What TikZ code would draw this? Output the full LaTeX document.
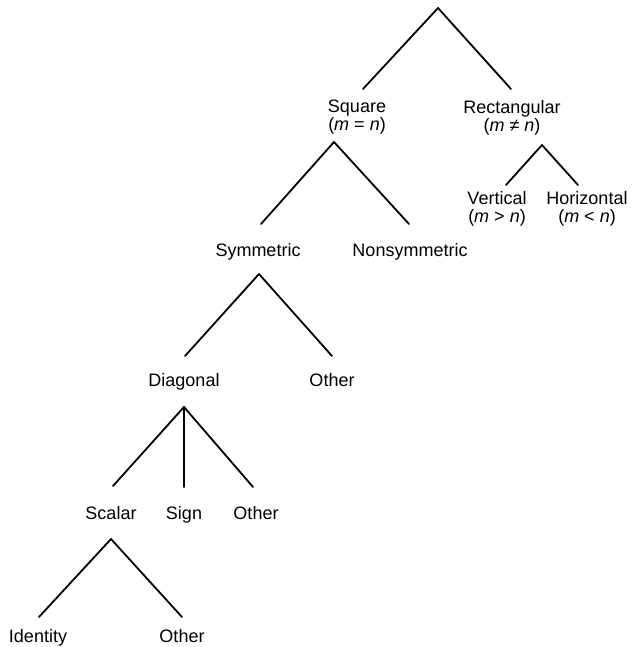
\documentclass[tikz,border=0pt]{standalone}
\usepackage{fontspec}
\setmainfont{Liberation Sans}
\begin{document}
\begin{tikzpicture}[x=1pt,y=-1pt,
  branch/.style={line width=1.8pt, line cap=round, line join=round},
  lbl/.style={font=\fontsize{18}{18}\selectfont, inner sep=0pt, anchor=base},
  lbltwo/.style={font=\fontsize{18}{18}\selectfont, inner sep=0pt, align=center, anchor=north}]
\useasboundingbox (0,0) rectangle (632,647);

% labels
\node[lbltwo] (square) at (357,100) {Square\\(\textit{m} = \textit{n})};
\node[lbltwo] (rect) at (512,100) {Rectangular\\(\textit{m} ≠ \textit{n})};
\node[lbltwo] (vert) at (497,191) {Vertical\\(\textit{m} > \textit{n})};
\node[lbltwo] (horiz) at (587,191) {Horizontal\\(\textit{m} < \textit{n})};
\node[lbl] (sym) at (258,256) {Symmetric};
\node[lbl] (nonsym) at (410,256) {Nonsymmetric};
\node[lbl] (diag) at (184,386) {Diagonal};
\node[lbl] (otherA) at (332,386) {Other};
\node[lbl] (scalar) at (111,519) {Scalar};
\node[lbl] (sign) at (184,519) {Sign};
\node[lbl] (otherB) at (256,519) {Other};
\node[lbl] (ident) at (38,642) {Identity};
\node[lbl] (otherC) at (182,642) {Other};

% branch points
\coordinate (r0) at (438,8);   \coordinate (r0l) at (363,89);  \coordinate (r0r) at (511,89);
\coordinate (sq) at (334,142); \coordinate (sql) at (261,224); \coordinate (sqr) at (409,224);
\coordinate (re) at (542,145); \coordinate (rel) at (506,185); \coordinate (rer) at (578,185);
\coordinate (sy) at (259,274); \coordinate (syl) at (185,356); \coordinate (syr) at (332,356);
\coordinate (di) at (184,407); \coordinate (dil) at (113,486); \coordinate (dim) at (184,487); \coordinate (dir) at (253,487);
\coordinate (sc) at (111,539); \coordinate (scl) at (39,617);  \coordinate (scr) at (182,617);

% connectors
\draw[branch] (r0l) -- (r0) -- (r0r);
\draw[branch] (sql) -- (sq) -- (sqr);
\draw[branch] (rel) -- (re) -- (rer);
\draw[branch] (syl) -- (sy) -- (syr);
\draw[branch] (dil) -- (di) -- (dir);
\draw[branch] (di) -- (dim);
\draw[branch] (scl) -- (sc) -- (scr);
\end{tikzpicture}
\end{document}
